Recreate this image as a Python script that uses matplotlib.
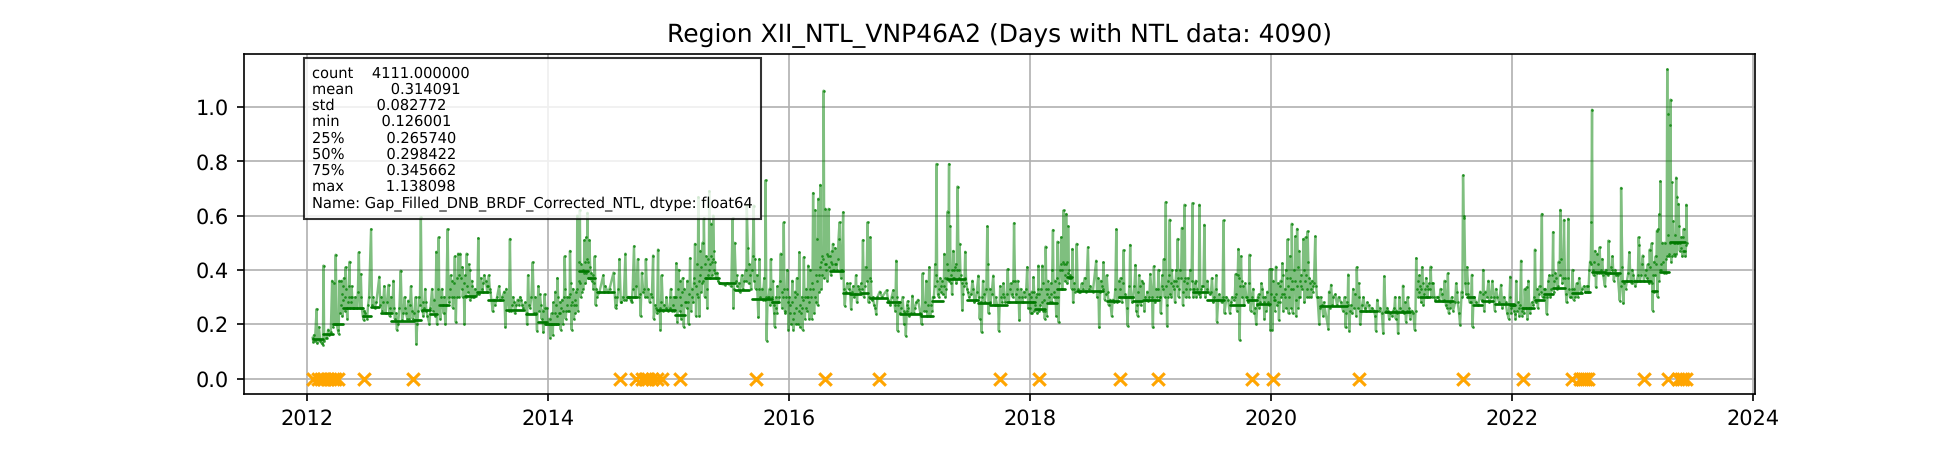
import numpy as np
import pandas as pd
import matplotlib
matplotlib.use('Agg')
import matplotlib.pyplot as plt
import matplotlib.dates as mdates

plt.rcParams['text.hinting'] = 'no_hinting'

# (day of year, NTL), the noisy part of the series
y2012 = [(17,.15),(19,.135),(21,.16),(24,.14),(29,.256),(31,.13),(36,.19),(40,.14),(44,.13),(48,.125),(50,.416),(52,.14),(56,.15),(60,.15),(64,.18),(68,.16),(72,.17),(76,.36),(78,.19),(82,.35),(84,.2),(87,.456),(90,.2),(93,.18),(96,.165),(98,.36),(102,.27),(104,.36),(107,.23),(110,.29),(112,.37),(114,.25),(117,.41),(120,.26),(124,.28),(127,.34),(129,.43),(132,.28),(135,.34),(138,.26),(141,.258),(150,.258),(157,.465),(160,.26),(163,.385),(166,.26),(169,.23),(172,.215),(176,.24),(182,.22),(188,.3),(194,.55),(197,.27),(205,.26),(219,.375),(222,.27),(228,.25),(234,.34),(238,.24),(247,.345),(250,.23),(254,.3),(262,.36),(266,.22),(272,.18),(276,.2),(284,.397),(288,.215),(296,.3),(300,.24),(307,.287),(310,.22),(315,.34),(320,.22),(329,.3),(331,.127),(334,.2),(340,.3),(345,.595),(348,.25),(352,.23),(358,.33),(362,.25),(365,.23)]
y2013 = [(5,.2),(13,.33),(17,.25),(26,.467),(28,.2),(33,.52),(35,.27),(40,.3),(45,.27),(50,.3),(53,.2),(60,.55),(63,.3),(67,.33),(70,.38),(74,.36),(78,.3),(82,.45),(85,.207),(88,.37),(92,.46),(95,.3),(98,.46),(103,.33),(106,.3),(111,.2),(114,.38),(118,.46),(122,.32),(127,.4),(130,.3),(135,.34),(140,.3),(146,.305),(153,.517),(156,.31),(160,.37),(166,.32),(171,.38),(175,.36),(180,.32),(185,.38),(190,.32),(197,.247),(200,.29),(216,.34),(220,.29),(232,.32),(235,.19),(238,.33),(246,.25),(249,.514),(252,.25),(258,.3),(264,.24),(272,.29),(276,.27),(280,.3),(286,.27),(295,.28),(300,.24),(301,.2),(304,.38),(310,.26),(318,.428),(322,.24),(326,.3),(331,.176),(335,.34),(340,.31),(345,.22),(350,.17),(354,.31),(358,.2),(362,.21)]
y2014 = [(2,.2),(6,.15),(10,.24),(14,.16),(18,.2),(22,.32),(25,.2),(28,.37),(31,.2),(35,.28),(38,.18),(42,.29),(44,.2),(48,.3),(50,.45),(53,.22),(56,.3),(60,.25),(63,.25),(66,.47),(69,.27),(71,.18),(75,.33),(78,.22),(82,.24),(85,.27),(88,.6),(90,.25),(93,.43),(96,.62),(98,.3),(102,.32),(106,.33),(110,.51),(113,.35),(116,.52),(119,.61),(122,.37),(125,.51),(128,.37),(132,.36),(137,.33),(141,.45),(144,.27),(147,.3),(155,.317),(167,.38),(170,.32),(180,.32),(198,.39),(202,.3),(204,.26),(210,.3),(216,.44),(220,.28),(226,.3),(234,.46),(237,.29),(242,.3),(250,.29),(256,.33),(260,.487),(264,.3),(272,.44),(275,.3),(280,.23),(284,.39),(288,.32),(296,.44),(300,.3),(308,.28),(314,.3),(318,.453),(320,.22),(324,.27),(333,.475),(335,.25),(340,.18),(344,.38),(348,.25),(356,.26),(362,.25)]
y2015 = [(5,.3),(10,.25),(15,.3),(20,.3),(23,.424),(26,.21),(30,.4),(33,.25),(36,.36),(39,.22),(43,.37),(46,.19),(50,.28),(53,.28),(57,.36),(61,.2),(65,.443),(68,.25),(72,.3),(76,.35),(80,.496),(83,.23),(86,.42),(90,.668),(93,.23),(96,.47),(99,.32),(103,.5),(107,.59),(110,.3),(114,.45),(117,.26),(120,.38),(123,.69),(126,.37),(129,.57),(132,.38),(135,.6),(138,.4),(141,.39),(144,.37),(150,.36),(156,.35),(170,.345),(178,.35),(190,.34),(194,.59),(196,.26),(200,.5),(204,.36),(208,.34),(215,.32),(225,.33),(234,.4),(237,.64),(240,.48),(243,.35),(248,.38),(252,.4),(258,.637),(261,.44),(264,.33),(272,.225),(275,.44),(278,.3),(285,.29),(292,.29),(294,.73),(297,.14),(300,.3),(306,.33),(310,.44),(313,.3),(318,.27),(322,.19),(326,.3),(330,.34),(335,.3),(340,.46),(344,.26),(349,.575),(352,.25),(356,.3),(360,.4),(363,.18)]
y2016 = [(3,.27),(6,.2),(10,.36),(13,.18),(17,.3),(20,.2),(24,.37),(27,.2),(31,.465),(34,.19),(38,.3),(41,.18),(45,.447),(48,.22),(52,.33),(55,.25),(58,.416),(61,.22),(65,.4),(69,.22),(73,.683),(76,.24),(79,.62),(81,.28),(84,.514),(87,.27),(89,.662),(92,.32),(95,.713),(98,.33),(101,.45),(105,1.06),(107,.37),(110,.625),(113,.4),(116,.36),(120,.625),(123,.45),(127,.38),(130,.47),(133,.496),(136,.4),(140,.48),(145,.4),(150,.515),(153,.575),(156,.4),(160,.4),(164,.612),(166,.33),(169,.268),(172,.32),(184,.35),(188,.256),(192,.32),(197,.3),(203,.38),(206,.28),(212,.33),(219,.35),(224,.51),(227,.3),(232,.41),(238,.575),(241,.28),(245,.37),(246,.52),(250,.29),(254,.3),(264,.237),(268,.3),(296,.325),(300,.29),(307,.27),(316,.325),(320,.27),(325,.434),(329,.176),(333,.28),(337,.24),(344,.3),(349,.2),(354,.157),(357,.25),(360,.285),(364,.23)]
y2017 = [(5,.24),(8,.305),(12,.24),(20,.28),(32,.24),(36,.2),(39,.387),(42,.25),(50,.36),(53,.23),(59,.41),(62,.23),(68,.25),(73,.3),(77,.42),(81,.79),(83,.36),(88,.3),(92,.37),(96,.32),(100,.31),(105,.459),(108,.3),(112,.37),(115,.615),(117,.4),(119,.79),(122,.56),(125,.35),(128,.31),(132,.47),(135,.37),(139,.42),(142,.4),(145,.707),(148,.4),(151,.496),(154,.38),(159,.252),(163,.34),(168,.467),(171,.35),(176,.32),(190,.36),(196,.28),(200,.29),(208,.379),(212,.22),(215,.28),(218,.17),(222,.36),(227,.28),(235,.56),(237,.42),(239,.24),(244,.28),(253,.379),(257,.27),(265,.27),(270,.176),(274,.34),(279,.28),(284,.35),(290,.28),(297,.403),(300,.28),(306,.35),(312,.3),(316,.572),(319,.36),(323,.28),(327,.36),(332,.215),(336,.33),(342,.28),(350,.3),(356,.41),(359,.26),(363,.26)]
y2018 = [(3,.3),(6,.24),(10,.373),(13,.25),(18,.3),(22,.24),(25,.416),(28,.25),(33,.33),(37,.416),(40,.25),(44,.22),(47,.486),(50,.23),(53,.36),(57,.3),(62,.35),(65,.28),(69,.547),(71,.3),(75,.36),(79,.23),(83,.504),(86,.207),(90,.4),(94,.52),(97,.33),(101,.619),(104,.36),(108,.42),(109,.606),(112,.35),(115,.56),(118,.37),(122,.37),(126,.33),(128,.477),(130,.28),(134,.35),(141,.496),(144,.33),(152,.32),(160,.33),(165,.37),(170,.32),(175,.483),(178,.33),(190,.32),(200,.434),(203,.3),(206,.37),(209,.188),(212,.32),(218,.34),(222,.428),(226,.29),(232,.38),(238,.27),(247,.23),(250,.29),(255,.28),(261,.549),(264,.28),(270,.3),(274,.37),(278,.28),(283,.473),(286,.3),(290,.3),(295,.194),(298,.3),(303,.492),(306,.3),(312,.3),(319,.418),(322,.25),(326,.23),(330,.38),(335,.27),(338,.36),(343,.35),(346,.25),(352,.29),(358,.285),(364,.385)]
y2019 = [(7,.188),(10,.413),(13,.28),(20,.3),(24,.4),(27,.3),(31,.24),(36,.38),(40,.44),(43,.3),(46,.65),(49,.27),(50,.194),(53,.3),(58,.585),(61,.35),(64,.4),(70,.36),(74,.28),(78,.4),(82,.514),(85,.3),(89,.4),(95,.555),(98,.27),(103,.64),(106,.3),(110,.35),(115,.3),(120,.4),(127,.646),(130,.3),(135,.35),(139,.3),(148,.64),(151,.3),(156,.34),(163,.566),(166,.3),(172,.36),(180,.31),(186,.37),(190,.28),(199,.38),(201,.21),(205,.29),(215,.28),(221,.582),(224,.24),(230,.3),(240,.24),(247,.3),(255,.3),(258,.385),(262,.25),(266,.477),(270,.141),(274,.45),(278,.3),(283,.27),(290,.3),(296,.28),(300,.456),(303,.25),(308,.3),(313,.24),(320,.2),(325,.3),(330,.26),(336,.35),(341,.3),(345,.22),(351,.25),(357,.28),(361,.403),(363,.18)]
y2020 = [(2,.403),(4,.18),(8,.3),(11,.25),(15,.412),(18,.27),(21,.35),(24,.215),(28,.34),(31,.3),(34,.424),(37,.25),(41,.3),(45,.26),(48,.37),(50,.512),(53,.24),(56,.45),(60,.26),(63,.57),(66,.24),(70,.4),(74,.523),(76,.23),(79,.551),(82,.26),(85,.47),(88,.3),(92,.38),(98,.514),(101,.28),(105,.52),(108,.3),(111,.542),(114,.3),(118,.35),(122,.3),(126,.32),(130,.35),(134,.523),(137,.34),(141,.3),(146,.2),(150,.3),(155,.27),(160,.28),(174,.182),(178,.26),(182,.345),(186,.27),(195,.31),(200,.27),(212,.28),(226,.188),(230,.28),(234,.383),(237,.176),(240,.25),(249,.33),(252,.26),(260,.41),(263,.26),(266,.35),(270,.2),(274,.25),(280,.3),(287,.25),(296,.27),(300,.25),(312,.25),(318,.176),(322,.29),(330,.26),(340,.166),(343,.376),(347,.25),(355,.25),(362,.24)]
y2021 = [(5,.25),(10,.3),(14,.25),(19,.166),(23,.3),(30,.25),(34,.342),(37,.24),(43,.21),(48,.3),(53,.25),(60,.25),(70,.178),(72,.25),(74,.443),(76,.33),(80,.3),(84,.38),(88,.33),(92,.41),(96,.27),(102,.33),(108,.3),(114,.35),(118,.412),(121,.3),(126,.35),(132,.29),(140,.3),(148,.33),(155,.285),(160,.36),(164,.27),(170,.387),(173,.24),(178,.26),(186,.25),(195,.35),(200,.28),(207,.198),(212,.32),(216,.748),(218,.6),(220,.59),(223,.35),(228,.41),(232,.31),(236,.28),(243,.382),(245,.19),(250,.3),(262,.27),(272,.29),(277,.4),(280,.25),(284,.32),(293,.36),(296,.28),(305,.36),(312,.25),(320,.3),(331,.345),(335,.26),(345,.28),(355,.219),(359,.375),(362,.26)]
y2022 = [(2,.27),(6,.25),(9,.237),(12,.36),(15,.25),(20,.26),(24,.27),(27,.434),(30,.231),(33,.26),(38,.33),(44,.336),(46,.219),(49,.36),(52,.26),(56,.26),(64,.27),(69,.475),(72,.28),(75,.33),(80,.31),(83,.34),(90,.606),(92,.3),(96,.3),(105,.237),(107,.3),(113,.38),(118,.33),(124,.539),(126,.32),(130,.39),(136,.33),(141,.43),(146,.621),(149,.44),(152,.35),(157,.584),(160,.37),(165,.28),(170,.588),(172,.33),(178,.3),(183,.4),(186,.29),(190,.3),(198,.3),(203,.37),(208,.32),(218,.34),(226,.34),(231,.32),(234,.4),(238,.42),(240,.576),(242,.99),(244,.4),(248,.43),(251,.47),(254,.336),(258,.46),(262,.39),(265,.483),(268,.39),(273,.44),(281,.34),(286,.39),(292,.508),(295,.39),(304,.45),(308,.36),(315,.38),(326,.287),(330,.702),(334,.41),(337,.277),(344,.33),(348,.36),(355,.465),(359,.36),(364,.4)]
y2023 = [(5,.36),(13,.36),(18,.52),(20,.49),(22,.36),(31,.453),(34,.36),(40,.4),(48,.36),(52,.475),(55,.36),(58,.498),(61,.25),(64,.32),(70,.45),(74,.545),(76,.3),(78,.55),(81,.604),(84,.726),(87,.4),(90,.5),(95,.39),(100,.39),(103,.45),(105,1.138),(108,.975),(110,.45),(112,.935),(115,1.027),(118,.723),(120,.45),(122,.58),(125,.5),(128,.45),(132,.74),(134,.67),(136,.5),(139,.643),(141,.56),(144,.5),(148,.52),(152,.52),(155,.551),(157,.47),(160,.45),(163,.64),(165,.5)]

# more dots inside the dense bands
e2012 = [(100,.24),(106,.31),(109,.34),(116,.3),(119,.33),(122,.22),(126,.3),(130,.26),(134,.3),(137,.3),(146,.3),(154,.32),(165,.3),(174,.25),(185,.27),(200,.3),(210,.28),(225,.3),(231,.28),(242,.28),(252,.26),(258,.24),(264,.26),(270,.24),(280,.26),(292,.24),(298,.26),(304,.22),(312,.27),(318,.25),(325,.24),(337,.25),(342,.27),(350,.28),(355,.26),(360,.28)]
e2013 = [(8,.26),(20,.29),(23,.23),(30,.33),(38,.22),(43,.33),(48,.24),(56,.27),(65,.28),(72,.3),(76,.26),(80,.35),(90,.3),(94,.38),(100,.37),(105,.41),(109,.35),(116,.3),(120,.34),(124,.42),(128,.29),(133,.36),(137,.3),(143,.33),(150,.31),(163,.33),(168,.35),(178,.34),(182,.34),(188,.33),(204,.27),(210,.3),(226,.3),(255,.27),(262,.28),(268,.27),(283,.29),(290,.26),(307,.27),(314,.3),(329,.24),(338,.25),(343,.27),(348,.25),(356,.26),(360,.26)]
e2014 = [(4,.22),(8,.2),(12,.2),(16,.28),(20,.24),(24,.27),(27,.23),(30,.3),(33,.24),(37,.24),(40,.26),(46,.25),(52,.33),(55,.25),(58,.27),(62,.3),(65,.31),(68,.35),(73,.28),(77,.27),(80,.29),(84,.32),(87,.33),(92,.36),(95,.35),(100,.42),(104,.4),(108,.39),(112,.43),(115,.39),(118,.44),(121,.43),(127,.41),(130,.39),(135,.38),(139,.35),(146,.33),(173,.34),(186,.33),(207,.27),(213,.33),(222,.28),(229,.29),(246,.3),(253,.28),(267,.34),(278,.31),(291,.33),(294,.3),(303,.33),(311,.31),(326,.26),(330,.24),(338,.26),(342,.28),(352,.27),(358,.3)]
e2015 = [(3,.26),(7,.33),(12,.27),(17,.25),(22,.3),(28,.33),(34,.3),(37,.27),(41,.32),(48,.33),(55,.26),(59,.28),(63,.31),(70,.33),(74,.28),(78,.37),(82,.34),(85,.31),(88,.3),(92,.36),(95,.38),(98,.41),(101,.35),(105,.36),(109,.42),(112,.37),(116,.33),(119,.44),(122,.4),(125,.42),(128,.45),(131,.43),(134,.44),(137,.47),(140,.43),(147,.39),(198,.33),(206,.38),(212,.35),(222,.38),(229,.36),(236,.36),(245,.42),(250,.33),(255,.45),(260,.36),(267,.38),(275,.33),(283,.33),(290,.37),(296,.3),(303,.3),(308,.27),(312,.28),(316,.36),(320,.24),(324,.26),(328,.24),(333,.28),(338,.36),(343,.32),(347,.3),(351,.33),(354,.24),(358,.33),(362,.28)]
e2016 = [(1,.3),(4,.24),(8,.28),(11,.22),(15,.24),(18,.32),(22,.26),(25,.31),(29,.25),(33,.27),(36,.24),(40,.26),(43,.29),(47,.3),(50,.26),(54,.3),(57,.3),(60,.28),(63,.33),(67,.3),(71,.35),(74,.33),(78,.3),(83,.38),(86,.36),(91,.38),(94,.41),(97,.43),(100,.38),(104,.44),(109,.42),(112,.42),(115,.46),(119,.45),(122,.41),(126,.43),(129,.42),(132,.4),(138,.42),(143,.42),(148,.44),(158,.37),(176,.35),(181,.33),(195,.34),(200,.31),(209,.34),(216,.32),(222,.33),(229,.34),(235,.36),(243,.3),(248,.36),(258,.27),(262,.26),(275,.32),(282,.3),(304,.28),(311,.3),(322,.25),(327,.3),(331,.27),(339,.26),(347,.25),(352,.24),(358,.27),(362,.26)]
e2017 = [(15,.26),(25,.29),(45,.28),(48,.25),(56,.27),(64,.27),(70,.3),(75,.34),(79,.38),(85,.31),(90,.33),(94,.34),(98,.36),(103,.34),(106,.37),(110,.33),(113,.42),(120,.36),(124,.38),(127,.4),(130,.37),(134,.4),(137,.41),(141,.35),(150,.37),(157,.35),(161,.31),(166,.37),(174,.33),(180,.3),(186,.31),(193,.33),(203,.32),(210,.3),(220,.3),(225,.31),(232,.33),(242,.33),(248,.31),(260,.3),(268,.27),(276,.3),(282,.31),(287,.3),(294,.31),(303,.33),(309,.31),(314,.36),(321,.31),(325,.33),(330,.3),(339,.3),(345,.32),(353,.33),(361,.31)]
e2018 = [(2,.24),(5,.32),(8,.28),(12,.32),(15,.27),(20,.31),(24,.33),(27,.31),(31,.27),(35,.28),(39,.35),(42,.29),(46,.25),(49,.33),(52,.31),(55,.33),(60,.28),(63,.31),(67,.4),(73,.32),(77,.3),(81,.37),(85,.3),(88,.35),(92,.42),(96,.4),(99,.43),(103,.42),(106,.38),(111,.43),(114,.39),(117,.4),(120,.38),(124,.37),(132,.33),(137,.32),(148,.32),(156,.35),(182,.34),(214,.36),(220,.33),(229,.31),(235,.32),(242,.29),(258,.33),(268,.36),(272,.33),(281,.35),(288,.31),(293,.26),(301,.34),(310,.28),(316,.34),(324,.27),(328,.32),(333,.34),(341,.29),(349,.3),(355,.32),(361,.3)]
e2019 = [(4,.3),(16,.33),(22,.33),(29,.3),(34,.34),(38,.33),(48,.34),(52,.36),(56,.38),(60,.31),(63,.3),(67,.34),(72,.33),(76,.36),(80,.34),(84,.37),(87,.33),(92,.37),(97,.32),(101,.36),(105,.37),(108,.33),(112,.37),(118,.33),(124,.36),(128,.33),(133,.33),(137,.36),(142,.33),(146,.31),(153,.33),(160,.34),(170,.33),(175,.32),(183,.32),(193,.3),(197,.33),(208,.31),(218,.3),(235,.29),(244,.28),(252,.29),(260,.31),(264,.38),(268,.37),(272,.34),(276,.36),(281,.34),(286,.35),(293,.3),(298,.35),(306,.29),(311,.33),(316,.26),(323,.27),(328,.31),(333,.28),(339,.33),(343,.28),(348,.3),(354,.32),(360,.27)]
e2020 = [(1,.31),(6,.36),(9,.29),(13,.29),(16,.31),(20,.28),(26,.28),(29,.36),(33,.31),(36,.38),(39,.31),(43,.33),(46,.4),(51,.34),(55,.3),(58,.37),(62,.33),(65,.36),(68,.33),(72,.36),(75,.29),(78,.34),(81,.41),(84,.3),(87,.36),(90,.34),(95,.33),(100,.4),(103,.36),(107,.38),(110,.33),(113,.43),(116,.37),(120,.33),(124,.36),(128,.34),(139,.3),(148,.26),(158,.23),(176,.32),(189,.3),(205,.3),(218,.25),(223,.3),(228,.24),(232,.27),(243,.27),(246,.24),(256,.31),(258,.23),(268,.3),(276,.27),(284,.26),(292,.28),(305,.26),(316,.23),(326,.25),(336,.24),(352,.26),(358,.22)]
e2021 = [(2,.23),(8,.26),(12,.22),(17,.24),(25,.26),(33,.25),(40,.28),(46,.25),(51,.26),(56,.22),(65,.24),(78,.36),(82,.32),(86,.34),(90,.28),(94,.35),(99,.31),(104,.37),(107,.34),(111,.33),(116,.33),(123,.35),(129,.3),(136,.3),(144,.29),(152,.31),(158,.29),(168,.26),(176,.28),(182,.3),(192,.28),(198,.32),(204,.24),(214,.3),(226,.31),(231,.35),(240,.28),(247,.27),(255,.28),(268,.32),(276,.31),(288,.3),(300,.3),(309,.3),(316,.33),(326,.28),(340,.3),(350,.24),(357,.3),(360,.24)]
e2022 = [(5,.27),(10,.22),(18,.28),(22,.23),(29,.25),(36,.24),(41,.26),(54,.24),(60,.28),(67,.3),(78,.26),(86,.32),(95,.33),(100,.33),(110,.36),(116,.3),(122,.38),(128,.36),(134,.37),(139,.34),(144,.38),(155,.37),(163,.31),(168,.37),(175,.3),(181,.33),(188,.33),(195,.35),(212,.33),(222,.32),(229,.34),(236,.43),(247,.38),(256,.39),(260,.42),(270,.4),(276,.38),(284,.4),(290,.38),(298,.41),(302,.4),(312,.4),(320,.38),(329,.34),(340,.35),(352,.39),(362,.35)]
e2023 = [(2,.38),(8,.34),(16,.38),(25,.38),(28,.42),(37,.38),(44,.37),(46,.42),(50,.35),(54,.41),(60,.35),(62,.38),(66,.43),(68,.38),(72,.42),(80,.36),(83,.4),(86,.42),(92,.43),(97,.5),(101,.44),(107,.53),(111,.46),(114,.5),(117,.43),(124,.46),(127,.53),(130,.5),(133,.46),(138,.5),(143,.47),(147,.48),(151,.45),(154,.47),(159,.47),(162,.49)]

years = [2012, 2013, 2014, 2015, 2016, 2017, 2018, 2019, 2020, 2021, 2022, 2023]
noisy = [y2012, y2013, y2014, y2015, y2016, y2017, y2018, y2019, y2020, y2021, y2022, y2023]
extra = [e2012, e2013, e2014, e2015, e2016, e2017, e2018, e2019, e2020, e2021, e2022, e2023]

# flat gap filled stretches: days since 2012-01-01 and level
run_start = [17,49,79,109,169,194,224,254,324,349,374,404,479,514,549,604,664,699,722,823,853,879,970,1061,1116,1207,1248,1298,1349,1409,
             1585,1625,1645,1680,1706,1757,1797,1862,1893,1939,2000,2035,2071,2121,2192,2207,2243,2273,2303,2334,2425,2460,2505,2536,2687,2728,2799,2849,2879,
             3071,3192,3268,3374,3419,3515,3536,3561,3601,3647,3682,3723,3748,3778,3834,3874,3895,3935,3986,4021,4077,4102,4132]
run_end = [49,79,109,169,194,219,254,324,344,374,394,429,509,549,594,659,694,724,760,853,873,929,1000,1116,1146,1248,1298,1339,1409,1430,
           1625,1645,1680,1700,1757,1797,1862,1898,1929,1995,2035,2071,2121,2192,2207,2237,2273,2298,2318,2414,2460,2505,2531,2581,2728,2778,2839,2879,2920,
           3152,3243,3344,3404,3475,3536,3561,3596,3657,3662,3718,3748,3778,3814,3864,3890,3935,3981,4016,4072,4092,4127,4178]
run_value = [.145,.165,.2,.258,.23,.265,.243,.213,.215,.253,.237,.269,.305,.32,.289,.253,.237,.207,.2,.395,.37,.317,.3,.252,.235,.37,.35,.326,.293,.28,
             .395,.316,.31,.316,.295,.28,.237,.23,.284,.367,.289,.277,.272,.28,.28,.256,.277,.33,.373,.321,.287,.3,.287,.289,.318,.289,.272,.29,.274,
             .266,.247,.246,.3,.284,.3,.272,.284,.274,.272,.26,.29,.31,.333,.314,.317,.391,.387,.36,.358,.323,.391,.502]

# days with no NTL data, drawn at zero
missing_days = [18,34,41,51,59,69,79,86,94,174,322,949,997,1015,1025,1035,1045,1061,1076,1131,1362,1571,1735,2099,2220,2463,2578,2864,2928,3190,3505,3687,3834,3858,3864,3870,3876,3882,4054,4124,4157,4165,4172,4180]

stats_text = ("count    4111.000000\n"
              "mean        0.314091\n"
              "std         0.082772\n"
              "min         0.126001\n"
              "25%         0.265740\n"
              "50%         0.298422\n"
              "75%         0.345662\n"
              "max         1.138098\n"
              "Name: Gap_Filled_DNB_BRDF_Corrected_NTL, dtype: float64")

start = pd.Timestamp('2012-01-01')
rows = []
for year, points, more in zip(years, noisy, extra):
    first = pd.Timestamp(year=year, month=1, day=1)
    for day, value in points + more:
        rows.append((first + pd.Timedelta(days=day), value))
series = pd.DataFrame(rows, columns=['date', 'ntl']).sort_values('date')

fig = plt.figure(figsize=(13, 3), dpi=150)
ax = fig.add_axes([243.7/1950, 56/450, (1755-243.7)/1950, 340/450])

ax.plot(series['date'], series['ntl'], '-', color='green', alpha=0.5, linewidth=1.15)
ax.plot(series['date'], series['ntl'], '.', color='green', alpha=0.75, markersize=2.6, markeredgewidth=0)
for s, e, v in zip(run_start, run_end, run_value):
    ax.plot([start + pd.Timedelta(days=s), start + pd.Timedelta(days=e)], [v, v],
            color='#007800', linewidth=1.3, solid_capstyle='round')

ax.scatter([start + pd.Timedelta(days=d) for d in missing_days], np.zeros(len(missing_days)),
           marker='x', color='orange', zorder=3)

ax.set_xlim(start + pd.Timedelta(days=-192), start + pd.Timedelta(days=4389))
ax.xaxis.set_major_locator(mdates.YearLocator(2))
ax.xaxis.set_major_formatter(mdates.DateFormatter('%Y'))
ax.grid(True)
ax.set_title('Region XII_NTL_VNP46A2 (Days with NTL data: 4090)', fontsize=12)
fig.text(312/1950, 1 - 66/450, stats_text, fontsize=7, linespacing=1.15, va='top', ha='left', zorder=5,
         bbox=dict(facecolor='white', edgecolor='black', alpha=0.8))

fig.savefig('out.png', dpi=150)
